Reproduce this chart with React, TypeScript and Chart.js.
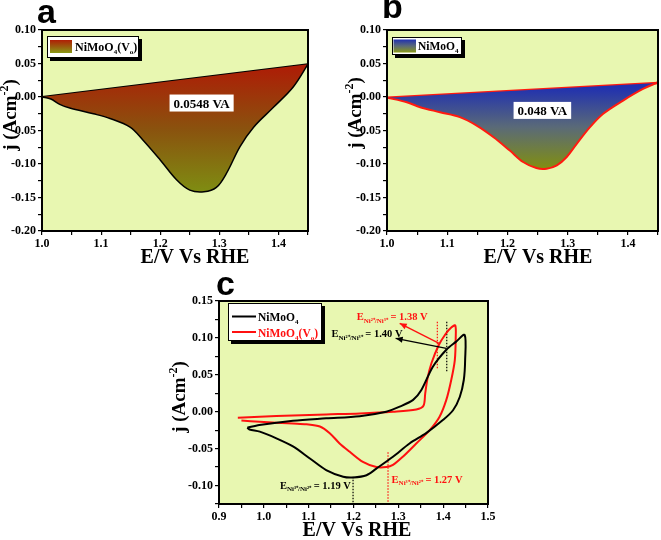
import React, { useEffect, useRef } from 'react';
import { Chart, registerables } from 'chart.js';
Chart.register(...registerables);

// ---------------- data ----------------
// Panel a : NiMoO4(Vo)
const aLowerE = [1.0, 1.015, 1.03, 1.047, 1.087, 1.115, 1.149, 1.171, 1.2, 1.228, 1.25, 1.274, 1.295, 1.312, 1.335, 1.358, 1.392, 1.425, 1.45];
const aLowerJ = [0.0, -0.003, -0.011, -0.0165, -0.025, -0.032, -0.045, -0.0645, -0.094, -0.124, -0.139, -0.1415, -0.135, -0.114, -0.074, -0.045, -0.015, 0.015, 0.049];
const aUpperE = [1.0, 1.45];
const aUpperJ = [0.0, 0.049];
const aAreaLabel = '0.0548 VA';

// Panel b : NiMoO4
const bLowerE = [1.0, 1.033, 1.055, 1.088, 1.121, 1.149, 1.177, 1.204, 1.226, 1.248, 1.265, 1.282, 1.298, 1.315, 1.337, 1.359, 1.392, 1.425, 1.45];
const bLowerJ = [-0.001, -0.0078, -0.0153, -0.0227, -0.03, -0.0426, -0.06, -0.08, -0.097, -0.106, -0.107, -0.102, -0.09, -0.07, -0.045, -0.025, -0.0053, 0.012, 0.022];
const bUpperE = [1.0, 1.45];
const bUpperJ = [-0.001, 0.021];
const bAreaLabel = '0.048 VA';

// Panel c : CV curves
const cBlackE = [0.963, 0.99, 1.065, 1.139, 1.214, 1.273, 1.303, 1.333, 1.351, 1.377, 1.407, 1.429, 1.448, 1.449, 1.446, 1.437, 1.422, 1.4, 1.362, 1.325, 1.288, 1.251, 1.229, 1.199, 1.177, 1.139, 1.102, 1.065, 1.028, 0.991, 0.968, 0.963];
const cBlackJ = [-0.0217, -0.018, -0.0122, -0.009, -0.006, 0.0, 0.0068, 0.016, 0.029, 0.061, 0.084, 0.095, 0.104, 0.07, 0.043, 0.02, 0.002, -0.011, -0.029, -0.043, -0.061, -0.077, -0.086, -0.089, -0.088, -0.079, -0.063, -0.047, -0.036, -0.027, -0.024, -0.0217];
const cRedE = [0.942, 0.991, 1.065, 1.139, 1.214, 1.288, 1.34, 1.356, 1.36, 1.365, 1.374, 1.39, 1.405, 1.418, 1.427, 1.428, 1.426, 1.418, 1.407, 1.392, 1.37, 1.34, 1.31, 1.288, 1.273, 1.251, 1.221, 1.191, 1.169, 1.147, 1.125, 1.095, 1.065, 0.991, 0.95];
const cRedJ = [-0.008, -0.0068, -0.005, -0.0036, -0.0023, 0.0, 0.003, 0.008, 0.025, 0.045, 0.066, 0.09, 0.105, 0.114, 0.117, 0.1, 0.07, 0.043, 0.016, -0.0068, -0.025, -0.043, -0.061, -0.072, -0.075, -0.075, -0.068, -0.054, -0.043, -0.029, -0.02, -0.017, -0.016, -0.0136, -0.012];
const cOxBlackE = [1.408, 1.408];
const cOxBlackJ = [0.055, 0.123];
const cOxRedE = [1.387, 1.387];
const cOxRedJ = [0.059, 0.122];
const cRedBlackE = [1.199, 1.199];
const cRedBlackJ = [-0.088, -0.125];
const cRedRedE = [1.277, 1.277];
const cRedRedJ = [-0.055, -0.125];
const cPeakValues = ['1.38 V', '1.40 V', '1.19 V', '1.27 V'];

// tick labels
const abXTicks = [1.0, 1.1, 1.2, 1.3, 1.4];
const abYTicks = [0.1, 0.05, 0.0, -0.05, -0.1, -0.15, -0.2];
const cXTicks = [0.9, 1.0, 1.1, 1.2, 1.3, 1.4, 1.5];
const cYTicks = [0.15, 0.1, 0.05, 0.0, -0.05, -0.1];

const seriesPlain = 'NiMoO4';
const seriesVac = 'NiMoO4(Vo)';
const xTitle = 'E/V Vs RHE';

// ---------------- helpers ----------------
const SERIF = '"Liberation Serif", "Times New Roman", serif';
const SANS = '"Liberation Sans", Arial, sans-serif';
const BG = '#e8f7b1';

const pts = (xs: number[], ys: number[]) => xs.map((x, i) => ({ x, y: ys[i] }));
const onList = (v: number, list: number[]) => list.some((t) => Math.abs(t - v) < 1e-6);

type Seg = [string, number]; // 0 normal, 1 sub, 2 sup
function rich(ctx: CanvasRenderingContext2D, segs: Seg[], x: number, y: number, size: number, color: string, align: 'left' | 'center' | 'right' = 'left') {
  const small = Math.round(size * 0.62);
  const widths = segs.map(([t, k]) => {
    ctx.font = `bold ${k ? small : size}px ${SERIF}`;
    return ctx.measureText(t).width;
  });
  const total = widths.reduce((a, b) => a + b, 0);
  let cx = align === 'center' ? x - total / 2 : align === 'right' ? x - total : x;
  ctx.fillStyle = color;
  ctx.textAlign = 'left';
  ctx.textBaseline = 'alphabetic';
  segs.forEach(([t, k], i) => {
    ctx.font = `bold ${k ? small : size}px ${SERIF}`;
    const dy = k === 1 ? size * 0.28 : k === 2 ? -size * 0.42 : 0;
    ctx.fillText(t, cx, y + dy);
    cx += widths[i];
  });
  return total;
}

function formulaSegs(name: string): Seg[] {
  if (name.endsWith('(Vo)')) return [['NiMoO', 0], ['4', 1], ['(V', 0], ['o', 1], [')', 0]];
  return [['NiMoO', 0], ['4', 1]];
}

function legendBox(ctx: CanvasRenderingContext2D, x: number, y: number, w: number, h: number) {
  ctx.fillStyle = '#000';
  ctx.fillRect(x + 3, y + 3, w, h);
  ctx.fillStyle = '#fff';
  ctx.fillRect(x, y, w, h);
  ctx.strokeStyle = '#000';
  ctx.lineWidth = 1;
  ctx.strokeRect(x + 0.5, y + 0.5, w - 1, h - 1);
}

function yTitle(ctx: CanvasRenderingContext2D, bx: number, cy: number) {
  ctx.save();
  ctx.translate(bx, cy);
  ctx.rotate(-Math.PI / 2);
  rich(ctx, [['j (Acm', 0], ['-2', 2], [')', 0]], 0, 0, 19, '#000', 'center');
  ctx.restore();
}

function arrow(ctx: CanvasRenderingContext2D, x1: number, y1: number, x2: number, y2: number, color: string) {
  ctx.save();
  ctx.strokeStyle = color;
  ctx.fillStyle = color;
  ctx.lineWidth = 1.3;
  ctx.beginPath();
  ctx.moveTo(x1, y1);
  ctx.lineTo(x2, y2);
  ctx.stroke();
  const a = Math.atan2(y2 - y1, x2 - x1);
  const L = 7, W = 3;
  ctx.beginPath();
  ctx.moveTo(x2, y2);
  ctx.lineTo(x2 - L * Math.cos(a) + W * Math.sin(a), y2 - L * Math.sin(a) - W * Math.cos(a));
  ctx.lineTo(x2 - L * Math.cos(a) - W * Math.sin(a), y2 - L * Math.sin(a) + W * Math.cos(a));
  ctx.closePath();
  ctx.fill();
  ctx.restore();
}

function frameBg(chart: any) {
  const { ctx, chartArea: a, width, height } = chart;
  ctx.save();
  ctx.fillStyle = '#fff';
  ctx.fillRect(0, 0, width, height);
  ctx.fillStyle = BG;
  ctx.fillRect(a.left, a.top, a.right - a.left, a.bottom - a.top);
  ctx.restore();
}
function frameBorder(chart: any) {
  const { ctx, chartArea: a } = chart;
  ctx.save();
  ctx.strokeStyle = '#000';
  ctx.lineWidth = 2;
  ctx.strokeRect(a.left, a.top, a.right - a.left, a.bottom - a.top);
  ctx.restore();
}

function scalesCfg(o: { xmin: number; xmax: number; xstep: number; xLabels: number[]; xDec: number; ymin: number; ymax: number; ystep: number; yLabels: number[]; yWidth: number; xHeight: number }) {
  const tickFont = { family: SERIF, weight: 'bold' as const, size: 12 };
  return {
    x: {
      type: 'linear' as const,
      min: o.xmin,
      max: o.xmax,
      afterBuildTicks: (s: any) => {
        const t = [];
        for (let v = o.xmin; v <= o.xmax + 1e-9; v += o.xstep) t.push({ value: Math.round(v * 1000) / 1000 });
        s.ticks = t;
      },
      ticks: {
        autoSkip: false,
        maxRotation: 0,
        color: '#000',
        font: tickFont,
        padding: 2,
        callback: (v: any) => (onList(Number(v), o.xLabels) ? Number(v).toFixed(o.xDec) : ''),
      },
      grid: { drawOnChartArea: false, drawTicks: true, tickLength: 4, color: '#000', lineWidth: 1.2 },
      border: { display: false },
      afterFit: (s: any) => { s.height = o.xHeight; },
    },
    y: {
      type: 'linear' as const,
      min: o.ymin,
      max: o.ymax,
      afterBuildTicks: (s: any) => {
        const t = [];
        for (let v = o.ymin; v <= o.ymax + 1e-9; v += o.ystep) t.push({ value: Math.round(v * 1000) / 1000 });
        s.ticks = t;
      },
      ticks: {
        autoSkip: false,
        color: '#000',
        font: tickFont,
        padding: 2,
        callback: (v: any) => {
          const n = Math.abs(Number(v)) < 1e-9 ? 0 : Number(v);
          return onList(n, o.yLabels) ? n.toFixed(2) : '';
        },
      },
      grid: { drawOnChartArea: false, drawTicks: true, tickLength: 4, color: '#000', lineWidth: 1.2 },
      border: { display: false },
      afterFit: (s: any) => { s.width = o.yWidth; },
    },
  };
}

function gradientFill(topColor: string, midColor: string, botColor: string, yTop: number, yBot: number) {
  return (c: any) => {
    const chart = c.chart;
    if (!chart.chartArea) return topColor;
    const y = chart.scales.y;
    const g = chart.ctx.createLinearGradient(0, y.getPixelForValue(yTop), 0, y.getPixelForValue(yBot));
    g.addColorStop(0, topColor);
    g.addColorStop(0.5, midColor);
    g.addColorStop(1, botColor);
    return g;
  };
}

function areaLabel(chart: any, text: string, xv: number, yv: number) {
  const { ctx, scales } = chart;
  const px = scales.x.getPixelForValue(xv);
  const py = scales.y.getPixelForValue(yv);
  ctx.save();
  ctx.font = `bold 13px ${SERIF}`;
  const w = ctx.measureText(text).width + 8;
  ctx.fillStyle = '#fff';
  ctx.fillRect(px - w / 2, py - 8.5, w, 17);
  ctx.restore();
  rich(ctx, [[text, 0]], px, py + 4.5, 13, '#000', 'center');
}

// ---------------- configs ----------------
function configA(): any {
  return {
    type: 'line',
    data: {
      datasets: [
        {
          data: pts(aLowerE, aLowerJ),
          borderColor: '#000',
          borderWidth: 1.5,
          tension: 0.35,
          pointRadius: 0,
          fill: '+1',
          backgroundColor: gradientFill('#ad1d06', '#8a520e', '#7f8c12', 0.045, -0.14),
        },
        { data: pts(aUpperE, aUpperJ), borderColor: '#000', borderWidth: 2, pointRadius: 0, tension: 0, fill: false },
      ],
    },
    options: {
      animation: false,
      responsive: true,
      maintainAspectRatio: false,
      events: [],
      layout: { padding: { left: 0, top: 30, right: 22, bottom: 0 } },
      plugins: { legend: { display: false }, tooltip: { enabled: false } },
      scales: scalesCfg({ xmin: 1.0, xmax: 1.45, xstep: 0.05, xLabels: abXTicks, xDec: 1, ymin: -0.2, ymax: 0.1, ystep: 0.025, yLabels: abYTicks, yWidth: 42, xHeight: 39 }),
    },
    plugins: [
      {
        id: 'decoA',
        beforeDraw: frameBg,
        afterDraw: (chart: any) => {
          const ctx = chart.ctx;
          frameBorder(chart);
          areaLabel(chart, aAreaLabel, 1.27, -0.009);
          legendBox(ctx, 47, 36, 92, 22);
          const g = ctx.createLinearGradient(0, 40, 0, 53);
          g.addColorStop(0, '#b01e06');
          g.addColorStop(0.5, '#9a5a0e');
          g.addColorStop(1, '#8a9a16');
          ctx.fillStyle = g;
          ctx.fillRect(50, 40, 22, 13);
          rich(ctx, formulaSegs(seriesVac), 75, 51, 12, '#000');
          ctx.font = `bold 34px ${SANS}`;
          ctx.fillStyle = '#000';
          ctx.textAlign = 'left';
          ctx.textBaseline = 'alphabetic';
          ctx.fillText('a', 37, 23);
          rich(ctx, [[xTitle, 0]], 195, 263, 20, '#000', 'center');
          yTitle(ctx, 16, 115);
        },
      },
    ],
  };
}

function configB(): any {
  return {
    type: 'line',
    data: {
      datasets: [
        {
          data: pts(bLowerE, bLowerJ),
          borderColor: '#ff1a10',
          borderWidth: 2,
          tension: 0.35,
          pointRadius: 0,
          fill: '+1',
          backgroundColor: gradientFill('#2030b0', '#5a6a78', '#808e14', 0.015, -0.105),
        },
        { data: pts(bUpperE, bUpperJ), borderColor: '#ff1a10', borderWidth: 2.5, pointRadius: 0, tension: 0, fill: false },
      ],
    },
    options: {
      animation: false,
      responsive: true,
      maintainAspectRatio: false,
      events: [],
      layout: { padding: { left: 0, top: 30, right: 3, bottom: 0 } },
      plugins: { legend: { display: false }, tooltip: { enabled: false } },
      scales: scalesCfg({ xmin: 1.0, xmax: 1.45, xstep: 0.05, xLabels: abXTicks, xDec: 1, ymin: -0.2, ymax: 0.1, ystep: 0.025, yLabels: abYTicks, yWidth: 57, xHeight: 39 }),
    },
    plugins: [
      {
        id: 'decoB',
        beforeDraw: frameBg,
        afterDraw: (chart: any) => {
          const ctx = chart.ctx;
          frameBorder(chart);
          areaLabel(chart, bAreaLabel, 1.258, -0.02);
          legendBox(ctx, 62, 37, 70, 18);
          const g = ctx.createLinearGradient(0, 39.5, 0, 52.5);
          g.addColorStop(0, '#2030b0');
          g.addColorStop(0.5, '#5a6a78');
          g.addColorStop(1, '#8a9a16');
          ctx.fillStyle = g;
          ctx.fillRect(63.5, 39.5, 22.5, 13);
          rich(ctx, formulaSegs(seriesPlain), 88, 50, 11.5, '#000');
          ctx.font = `bold 34px ${SANS}`;
          ctx.fillStyle = '#000';
          ctx.textAlign = 'left';
          ctx.textBaseline = 'alphabetic';
          ctx.fillText('b', 52, 18);
          rich(ctx, [[xTitle, 0]], 208, 263, 20, '#000', 'center');
          yTitle(ctx, 31, 113);
        },
      },
    ],
  };
}

function configC(): any {
  const dotted = (xs: number[], ys: number[], color: string) => ({
    data: pts(xs, ys),
    borderColor: color,
    borderWidth: 1.2,
    borderDash: [1.5, 1.5],
    pointRadius: 0,
    tension: 0,
    fill: false,
  });
  return {
    type: 'line',
    data: {
      datasets: [
        { label: seriesPlain, data: pts(cBlackE, cBlackJ), borderColor: '#000', borderWidth: 2, tension: 0.3, pointRadius: 0, fill: false },
        { label: seriesVac, data: pts(cRedE, cRedJ), borderColor: '#ff1010', borderWidth: 2, tension: 0.3, pointRadius: 0, fill: false },
        dotted(cOxBlackE, cOxBlackJ, '#000'),
        dotted(cOxRedE, cOxRedJ, '#ff1010'),
        dotted(cRedBlackE, cRedBlackJ, '#000'),
        dotted(cRedRedE, cRedRedJ, '#ff1010'),
      ],
    },
    options: {
      animation: false,
      responsive: true,
      maintainAspectRatio: false,
      events: [],
      layout: { padding: { left: 0, top: 31, right: 12, bottom: 0 } },
      plugins: { legend: { display: false }, tooltip: { enabled: false } },
      scales: scalesCfg({ xmin: 0.9, xmax: 1.5, xstep: 0.05, xLabels: cXTicks, xDec: 1, ymin: -0.125, ymax: 0.15, ystep: 0.025, yLabels: cYTicks, yWidth: 59, xHeight: 36 }),
    },
    plugins: [
      {
        id: 'decoC',
        beforeDraw: frameBg,
        afterDraw: (chart: any) => {
          const ctx = chart.ctx;
          const sx = chart.scales.x, sy = chart.scales.y;
          const X = (v: number) => sx.getPixelForValue(v);
          const Y = (v: number) => sy.getPixelForValue(v);
          frameBorder(chart);
          // arrows
          arrow(ctx, X(1.391), Y(0.0926), X(1.303), Y(0.1197), '#ff1010');
          arrow(ctx, X(1.407), Y(0.0858), X(1.294), Y(0.0994), '#000');
          // peak labels
          const lab = (x: number, y: number, sub: string, val: string, color: string) =>
            rich(ctx, [['E', 0], [sub, 1], [' = ' + val, 0]], x, y, 10.5, color);
          lab(X(1.207), Y(0.1297) + 4, 'Ni²⁺/Ni³⁺', cPeakValues[0], '#ff1010');
          lab(X(1.151), Y(0.1063) + 4, 'Ni²⁺/Ni³⁺', cPeakValues[1], '#000');
          lab(X(1.036), Y(-0.0986) + 4, 'Ni³⁺/Ni²⁺', cPeakValues[2], '#000');
          lab(X(1.285), Y(-0.0905) + 4, 'Ni³⁺/Ni²⁺', cPeakValues[3], '#ff1010');
          // legend
          legendBox(ctx, 68, 33, 94, 38);
          ctx.save();
          ctx.lineWidth = 2;
          ctx.strokeStyle = '#000';
          ctx.beginPath(); ctx.moveTo(72, 46.5); ctx.lineTo(96, 46.5); ctx.stroke();
          ctx.strokeStyle = '#ff1010';
          ctx.beginPath(); ctx.moveTo(72, 62); ctx.lineTo(96, 62); ctx.stroke();
          ctx.restore();
          rich(ctx, formulaSegs(seriesPlain), 98, 51, 11.5, '#000');
          rich(ctx, formulaSegs(seriesVac), 98, 66.5, 11.5, '#ff1010');
          ctx.font = `bold 34px ${SANS}`;
          ctx.fillStyle = '#000';
          ctx.textAlign = 'left';
          ctx.textBaseline = 'alphabetic';
          ctx.fillText('c', 56, 25);
          rich(ctx, [[xTitle, 0]], 197, 266, 20, '#000', 'center');
          yTitle(ctx, 25, 127);
        },
      },
    ],
  };
}

function ChartBox({ make, left, top, width, height }: { make: () => any; left: number; top: number; width: number; height: number }) {
  const ref = useRef<HTMLCanvasElement | null>(null);
  useEffect(() => {
    if (!ref.current) return;
    const chart = new Chart(ref.current, make());
    return () => chart.destroy();
  }, [make]);
  return (
    <div style={{ position: 'absolute', left, top, width, height }}>
      <canvas ref={ref} />
    </div>
  );
}

export default function App() {
  return (
    <div style={{ position: 'fixed', left: 0, top: 0, width: 661, height: 540, background: '#fff', overflow: 'hidden' }}>
      <ChartBox make={configA} left={0} top={0} width={330} height={270} />
      <ChartBox make={configB} left={330} top={0} width={331} height={270} />
      <ChartBox make={configC} left={160} top={270} width={340} height={270} />
    </div>
  );
}
